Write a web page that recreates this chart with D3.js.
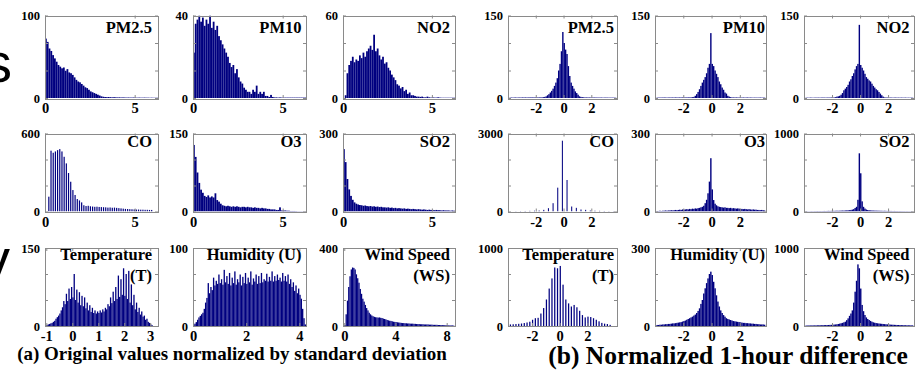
<!DOCTYPE html>
<html>
<head>
<meta charset="utf-8">
<script src="https://cdn.jsdelivr.net/npm/d3@7"></script>
<style>
  body { margin: 0; background: #fff; }
  svg { display: block; }
</style>
</head>
<body>
<svg id="chart" width="918" height="372"></svg>
<script>
// ---- (a) original values / std : histogram bin heights ----
const pm25Norm = [72,68,60,57,52,48,44,40,38,36, 37,33,35,31,30,28,25,22,20,19, 17,15,13,12,10,8,7,6,5,4,
  3,2,1.5,1.2,1,1.2,1,0.8,1,0.8, 0.7,0.8,0.6,0.7,0.6,0.5,0.6,0.5,0.5,0.6, 0.5,0.4,0.5,0.4,0.4,0.5,0.4,0.4,0.3,0.4, 0.3,0.3,0.3];
const pm10Norm = [22,36,38,40,37,39,35,38,36,40, 34,37,33,35,30,28,26,24,22,20, 17,15,16,12,14,10,8,7,5,4,
  3,3,2,4,3,6,2,3,2,3, 1,1,0.5,1.5,0.5,0.3,0.3,0.2,0.3,0.2, 0.2,0.2,0.2,0.2,0.2,0.2,0.2,0.2,0.2,0.2, 0.2,0.2,0.2];
const no2Norm = [0,2,18,24,27,30,26,28,27,31, 29,33,30,34,36,38,35,46,34,36, 31,28,30,25,26,22,20,17,15,13,
  10,9,7,8,5,6,3,4,2,2, 1.5,1,1,0.8,1,0.5,0.5,1,0.5,0.3, 0.5,0.3,0.3,0.5,0.3,0.2,0.2,0.2,0.2,0.2, 0.2,0.2,0.2];
const coNorm = [114,468,452,462,472,480,462,421,370,296, 229,165,127,96,85,70,48,42,44,40,
  38,36,37,35,34,33,32,30,31,29, 30,28,26,24,22,20,19,18,17,16, 15,15,14,14,13,13,12,12];
const o3Norm = [128,105,75,55,42,36,30,28,31,27, 29,27,35,22,19,15,12,11,10,11, 10,9,10,9,10,9,8,9,9,8,
  9,8,8,7,8,7,7,6,7,6, 6,5,5,4,4,4,3,3,8,2, 2,2,1.5,1.5,1,1,1,0.8,0.5,0.5, 0.5,0.4,0.4];
const so2Norm = [240,190,125,85,60,45,35,30,27,25, 24,22,23,21,20,21,19,20,18,19, 17,18,16,16,15,16,14,15,13,14,
  12,13,12,11,12,10,11,10,9,10, 9,8,9,8,7,8,7,6,7,6, 6,5,6,5,5,4,5,4,4,4, 3,4,3];
const tempNorm = [2,3,4,5,6,8,10,14,17,20, 24,30,36,48,42,62,48,72,52,75,
  55,100,50,70,45,65,40,58,38,55, 34,45,30,40,27,35,25,30,24,28,
  25,30,26,32,28,35,32,42,38,55, 44,66,48,75,52,97,56,90,60,111,
  58,100,52,106,45,80,40,60,32,45, 27,35,22,28,18,20,12,14,8,6, 3,1.5];
const humNorm = [1,3,5,8,11,13,15,17,22,30, 36,55,42,50,46,62,52,58,54,66,
  55,60,53,72,56,64,54,68,52,62, 55,70,53,60,56,66,52,63,55,68,
  54,62,56,70,53,61,57,66,54,64, 55,68,56,60,58,67,57,63,58,70,
  57,64,58,66,59,62,57,68,58,64, 57,66,54,60,50,56,45,52,42,48, 40,35,22,10,2];
const windNorm = [5,60,130,200,255,290,300,298,290,265, 245,222,190,165,140,125,108,92,80,68,
  60,54,50,47,45,44,43,44,42,41, 38,36,34,31,29,27,26,24,22,21, 20,19,18,17,16,15,15,14,14,13,
  13,12,12,12,11,11,10,10,10,9, 9,9,8,8,8,8,7,7,7,6, 6,6,6,5,5,5,5,4,4,4, 4,3,3,3,3,2];

// ---- (b) normalized 1-hour difference ----
const pm25Diff = [0.6,0.8,0.7,0.8,0.9,0.7,0.8,0.9,0.8,1, 0.9,1,0.8,1,0.9,1.1,1,0.9,1.1,1,
  1,1.1,1,1.2,1.5,2,3,5,7,10, 13,17,22,28,36,50,62,85,120,100, 88,80,58,40,28,22,17,12,9,6,
  3,2,1.5,1.2,1,1,0.9,1,0.8,0.9, 0.8,0.9,0.8,0.7,0.8,0.7,0.8,0.6,0.7,0.8, 0.7,0.6,0.7,0.6,0.7,0.6,0.5];
const pm10Diff = [0.6,0.7,0.8,0.7,0.8,0.9,0.8,0.7,0.8,0.9, 0.8,0.9,0.8,1,0.9,0.8,1,0.9,1,1,
  0.9,1,1.1,1,1.2,1.5,2,4,7,11, 16,22,28,33,38,45,55,62,118,62, 58,50,44,38,30,25,19,15,10,8,
  4,2.5,1.5,1,1,0.9,1,0.8,0.9,0.8, 0.8,0.9,0.7,0.8,0.9,0.7,0.8,0.7,0.6,0.7, 0.7,0.6,0.7,0.8,0.6,0.7,0.6];
const no2Diff = [0.5,0.6,0.5,0.7,0.6,0.5,0.6,0.7,0.6,0.7, 0.6,0.7,0.8,0.7,0.6,0.8,0.7,0.8,0.9,0.8,
  1,1.5,2.5,3,4,6,9,14,17,20, 24,30,34,40,45,52,58,62,133,60, 55,50,44,38,35,32,30,26,22,19,
  16,14,11,8,5,2.5,1,0.9,0.8,0.7, 0.8,0.7,0.6,0.7,0.8,0.6,0.7,0.6,0.7,0.6, 0.6,0.7,0.5,0.6,0.5,0.6,0.5];
const coDiff = [12,15,20,25,30,38,64,128,320,917,2723,1212,192,141,77,64,38,30,25,20,15,12];
const o3Diff = [2,2,3,2,3,3,4,3,4,4, 5,4,5,6,5,6,7,6,8,7, 8,9,8,10,9,11,10,12,11,13,
  14,16,18,22,32,45,70,115,205,85, 44,30,24,20,18,17,16,15,16,14,
  14,13,14,12,13,12,11,12,11,10, 10,9,10,9,8,9,8,7,8,7, 7,6,6,5,6,5,4];
const so2Diff = [3,4,3,4,5,4,5,5,6,5, 6,5,6,7,6,7,8,7,8,9, 8,9,10,9,10,11,12,11,13,14,
  15,17,20,24,30,45,60,150,746,490, 130,60,38,25,19,16,14,13,12,11,
  11,10,10,9,9,8,9,8,7,8, 7,7,6,7,6,6,5,6,5,5, 5,4,5,4,4,4,3];
const tempDiff = [20,22,25,28,32,38,45,55,80,100, 105,160,230,340,480,610,750,740,770,530,
  340,290,250,270,240,195,140,110,120,115, 100,80,60,40,30,25,15];
const humDiff = [4,4,5,5,6,6,7,7,8,8, 9,10,10,11,12,13,14,15,17,19, 21,24,27,30,33,36,40,44,50,58,
  68,85,100,125,145,165,183,200,209,196, 170,145,118,94,75,60,50,42,36,30,
  27,25,23,21,19,18,17,16,15,14, 13,12,12,11,11,10,10,9,9,8, 8,7,7,6,6,6,5];
const windDiff = [6,6,7,7,7,8,8,8,9,9, 10,10,11,11,12,12,13,14,15,16, 18,20,22,26,30,35,40,47,55,75,
  98,130,160,200,300,440,580,790,740,480, 270,190,141,110,90,77,65,55,47,42,
  38,35,32,30,28,26,24,22,21,20, 18,17,16,15,14,13,13,12,11,11, 10,10,9,9,9,8,8];

// bins: first bin position and bin step (data units)
const normStart = [0, 0, 0, 0.18, 0, 0, -1, 0, 0];
const normStep = [0.1, 0.1, 0.1, 0.122, 0.1, 0.1, 0.05, 0.05, 0.1];
const diffStart = [-3.9, -3.9, -3.9, -3.47, -3.9, -3.9, -3.6, -3.9, -3.9];
const diffStep = [0.1, 0.1, 0.1, 0.335, 0.1, 0.1, 0.2, 0.1, 0.1];

const titles = [["PM2.5"], ["PM10"], ["NO2"], ["CO"], ["O3"], ["SO2"],
  ["Temperature", "(T)"], ["Humidity (U)"], ["Wind Speed", "(WS)"]];
const normYMax = [100, 40, 60, 600, 150, 300, 150, 100, 400];
const diffYMax = [150, 150, 150, 3000, 300, 1000, 1000, 300, 1000];
const normXDomain = [[0, 6.3], [0, 6.3], [0, 6.3], [0, 6.3], [0, 6.3], [0, 6.3], [-1.05, 3.3], [0, 4.25], [-0.1, 8.65]];
const normXTicks = [[0, 5], [0, 5], [0, 5], [0, 5], [0, 5], [0, 5], [-1, 0, 1, 2, 3], [0, 2, 4], [0, 4, 8]];
const diffXDomain = [[-4, 3.85], [-4, 3.85], [-4, 3.85], [-4, 3.85], [-4, 3.85], [-4, 3.85], [-3.73, 4.14], [-4, 3.85], [-4, 3.85]];
const diffXTicks = [-2, 0, 2];
const captions = ["(a) Original values normalized by standard deviation", "(b) Normalized 1-hour difference"];

const normValues = [pm25Norm, pm10Norm, no2Norm, coNorm, o3Norm, so2Norm, tempNorm, humNorm, windNorm];
const diffValues = [pm25Diff, pm10Diff, no2Diff, coDiff, o3Diff, so2Diff, tempDiff, humDiff, windDiff];

// ---- layout ----
const colX = [[45, 158], [193, 306], [343, 455], [508, 617], [655, 766], [804, 914]];
const rowY = [[15.5, 98], [133.5, 211.5], [248, 326]];
const titleDy = [17.8, 13.2, 11.5];
const titlePad = [6, 4.5, 5, 3, 1, 4.5];
const navy = '#000080';
const boxColor = '#8a8a8a';
const serif = '"Liberation Serif", "Times New Roman", Times, serif';

const svg = d3.select('#chart');
const defs = svg.append('defs');

// bar width as a share of the bin (spiky, quantized series get thin bars)
const normBarShare = [1, 1, 1, 0.55, 1, 1, 1, 1, 1];
const diffBarShare = [1, 1, 1, 0.22, 1, 1, 0.45, 1, 1];

const panels = [];
for (let k = 0; k < 9; k++) {
  panels.push({ values: normValues[k], start: normStart[k], step: normStep[k], yMax: normYMax[k],
    xDomain: normXDomain[k], xTicks: normXTicks[k], title: titles[k], share: normBarShare[k], col: k % 3, row: Math.floor(k / 3) });
}
for (let k = 0; k < 9; k++) {
  panels.push({ values: diffValues[k], start: diffStart[k], step: diffStep[k], yMax: diffYMax[k],
    xDomain: diffXDomain[k], xTicks: diffXTicks, title: titles[k], share: diffBarShare[k], col: 3 + k % 3, row: Math.floor(k / 3) });
}

function serifText(sel, size) {
  sel.style('font-family', serif).style('font-weight', 'bold').style('font-size', size + 'px').attr('fill', '#000');
}

panels.forEach((p, i) => {
  const [x0, x1] = colX[p.col];
  const [y0, y1] = rowY[p.row];
  const x = d3.scaleLinear().domain(p.xDomain).range([x0, x1]);
  const y = d3.scaleLinear().domain([0, p.yMax]).range([y1, y0]);
  const g = svg.append('g');

  defs.append('clipPath').attr('id', 'clip' + i)
    .append('rect').attr('x', x0).attr('y', y0).attr('width', x1 - x0).attr('height', y1 - y0);

  // histogram bars
  g.append('g').attr('clip-path', `url(#clip${i})`)
    .selectAll('rect')
    .data(p.values)
    .join('rect')
    .attr('x', (d, j) => x(p.start + j * p.step))
    .attr('width', (d, j) => (x(p.start + (j + 1) * p.step) - x(p.start + j * p.step)) * p.share)
    .attr('y', d => y(d))
    .attr('height', d => y(0) - y(d))
    .attr('fill', navy);

  // box
  g.append('rect')
    .attr('x', Math.round(x0) + 0.5).attr('y', Math.round(y0) + 0.5)
    .attr('width', Math.round(x1 - x0)).attr('height', Math.round(y1 - y0))
    .attr('fill', 'none').attr('stroke', boxColor).attr('stroke-width', 1);

  const yTicks = [0, p.yMax / 3, 2 * p.yMax / 3, p.yMax];

  const axB = g.append('g').attr('transform', `translate(0,${y1})`)
    .call(d3.axisBottom(x).tickValues(p.xTicks).tickSize(-3).tickPadding(15).tickFormat(d => String(d)));
  const axT = g.append('g').attr('transform', `translate(0,${y0})`)
    .call(d3.axisTop(x).tickValues(p.xTicks).tickSize(-3).tickFormat(''));
  const axL = g.append('g').attr('transform', `translate(${x0},0)`)
    .call(d3.axisLeft(y).tickValues(yTicks).tickSize(-3).tickPadding(5)
      .tickFormat(d => (d === 0 || d === p.yMax) ? String(d) : ''));
  const axR = g.append('g').attr('transform', `translate(${x1},0)`)
    .call(d3.axisRight(y).tickValues(yTicks).tickSize(-3).tickFormat(''));

  [axB, axT, axL, axR].forEach(a => {
    a.select('.domain').remove();
    a.selectAll('line').attr('stroke', boxColor);
  });
  axB.selectAll('text').call(serifText, 14.5).attr('dy', 0);
  axL.selectAll('text').call(serifText, 12.5);

  // panel title
  p.title.forEach((line, li) => {
    g.append('text')
      .attr('x', x1 - titlePad[p.col]).attr('y', y0 + titleDy[p.row] + li * 21)
      .attr('text-anchor', 'end')
      .call(serifText, 16.5)
      .text(line);
  });
});

// captions
svg.append('text').attr('x', 232).attr('y', 360)
  .attr('text-anchor', 'middle').call(serifText, 19).text(captions[0]);
svg.append('text').attr('x', 728).attr('y', 364)
  .attr('text-anchor', 'middle').call(serifText, 25.5).text(captions[1]);

// cut-off letters of the neighbouring slide text at the far left
const sideText = svg.append('g').style('font-family', '"Liberation Sans", Arial, sans-serif').style('font-size', '56px').attr('fill', '#000');
sideText.append('text').attr('x', -16).attr('y', 82).text('s');
sideText.append('text').attr('x', -12).attr('y', 112).text(',');
sideText.append('text').attr('x', -18).attr('y', 278).text('y');
</script>
</body>
</html>
